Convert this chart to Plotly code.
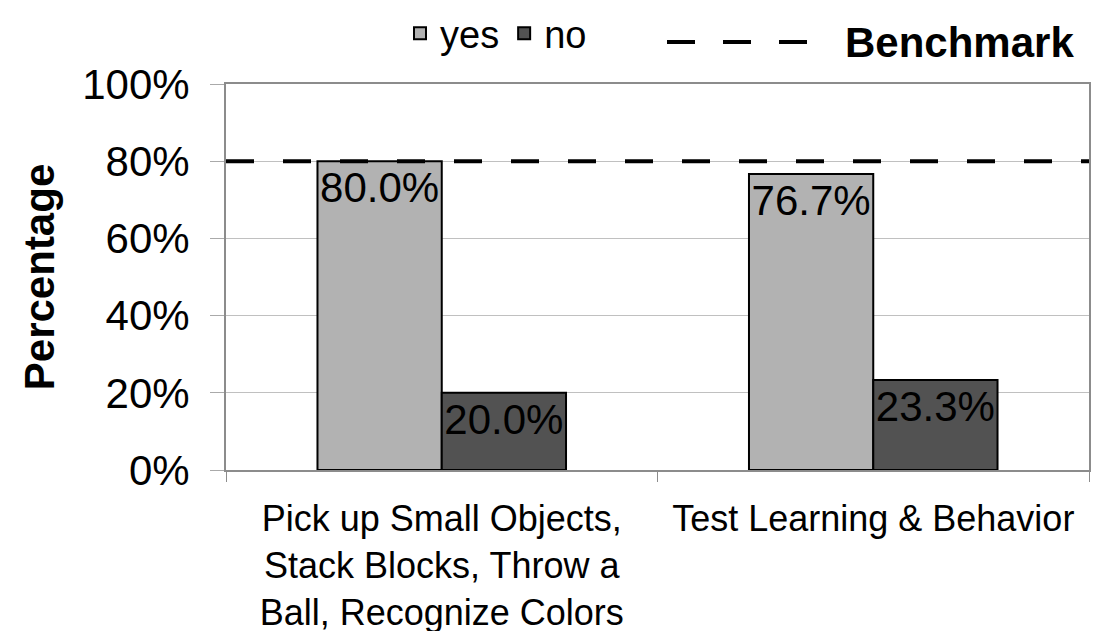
import plotly.graph_objects as go

categories = [
    "Pick up Small Objects,<br>Stack Blocks, Throw a<br>Ball, Recognize Colors",
    "Test Learning & Behavior",
]
yes_values = [0.800, 0.767]
no_values = [0.200, 0.233]
benchmark = 0.80
y_ticks = [0, 0.2, 0.4, 0.6, 0.8, 1.0]

FONT = "Liberation Sans, Arial, sans-serif"

fig = go.Figure()
fig.add_trace(go.Bar(
    name="yes", x=categories, y=yes_values,
    marker=dict(color="#b2b2b2", line=dict(color="black", width=2)),
    texttemplate="%{y:.1%}", textposition="inside", insidetextanchor="end",
    textangle=0, insidetextfont=dict(color="black", size=42, family=FONT),
))
fig.add_trace(go.Bar(
    name="no", x=categories, y=no_values,
    marker=dict(color="#525252", line=dict(color="black", width=2)),
    texttemplate="%{y:.1%}", textposition="inside", insidetextanchor="end",
    textangle=0, insidetextfont=dict(color="black", size=42, family=FONT),
))

# benchmark line across plot
fig.add_shape(type="line", xref="x domain", yref="y", x0=0, x1=1,
              y0=benchmark, y1=benchmark,
              line=dict(color="black", width=4, dash="28px,29px"))

# page offset (body margin) of 8px
OFF = 8
L, W = 226, 863   # on-screen plot left / width
T, H = 84, 386    # on-screen plot top / height
def px(xs):
    return (xs - L) / W
def py(ys):
    return (T + H - ys) / H

fig.add_shape(type="line", xref="paper", yref="paper",
              x0=px(667), x1=px(808), y0=py(42), y1=py(42),
              line=dict(color="black", width=4, dash="28px,28px"))
fig.add_annotation(xref="paper", yref="paper", x=px(843), y=py(42),
                   xanchor="left", yanchor="middle", showarrow=False,
                   text="<b>Benchmark</b>",
                   font=dict(size=42, color="black", family=FONT))

fig.update_layout(
    width=1108, height=631,
    margin=dict(l=L - OFF, r=1108 - (L - OFF) - W, t=T - OFF, b=631 - (T - OFF) - H,
                autoexpand=False),
    paper_bgcolor="white", plot_bgcolor="white",
    barmode="group", bargap=0.424, bargroupgap=0,
    font=dict(family=FONT, color="black"),
    uniformtext=dict(minsize=42, mode="show"),
    showlegend=True,
    legend=dict(orientation="h", x=px(400), y=py(2), xanchor="left", yanchor="top",
                font=dict(size=38, color="black", family=FONT),
                bgcolor="rgba(0,0,0,0)", itemwidth=30, tracegroupgap=0),
)
fig.update_xaxes(
    showline=True, mirror=True, linecolor="#8c8c8c", linewidth=2,
    ticks="outside", tickson="boundaries", ticklen=10, tickcolor="#8c8c8c",
    tickfont=dict(size=36, color="black", family=FONT), ticklabelstandoff=16,
    showgrid=False, automargin=False,
)
fig.update_yaxes(
    range=[0, 1], tickvals=y_ticks, tickformat=".0%",
    showline=True, mirror=True, linecolor="#8c8c8c", linewidth=2,
    ticks="outside", ticklen=14, tickcolor="#aaaaaa",
    tickfont=dict(size=42, color="black", family=FONT), ticklabelstandoff=12,
    gridcolor="#c0c0c0", gridwidth=1, zeroline=False, automargin=False,
    title=dict(text="<b>Percentage</b>", font=dict(size=42, color="black", family=FONT),
               standoff=14),
)

fig.write_html("out.html")
